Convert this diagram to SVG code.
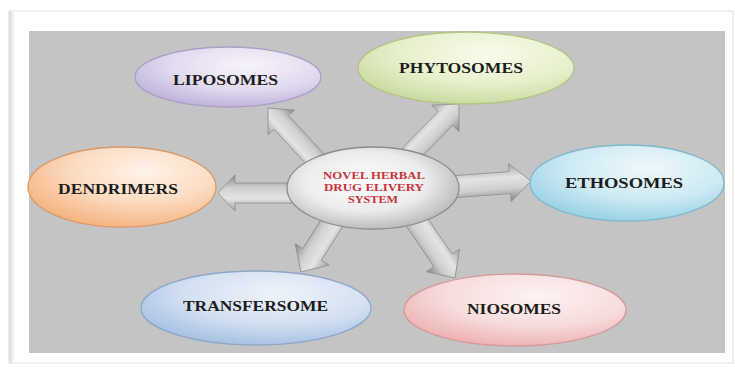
<svg xmlns="http://www.w3.org/2000/svg" width="735" height="367" viewBox="0 0 735 367">
  <defs>
    <style>
      .lbl { font-family: "Liberation Serif", "Times New Roman", serif; font-weight: bold; font-size: 14px; fill: #1c1c1c; }
      .ctr { font-family: "Liberation Serif", "Times New Roman", serif; font-weight: bold; font-size: 10.5px; fill: #c8323a; }
      .arrow { fill: url(#gArrow); stroke: #8e8e8e; stroke-width: 0.8; stroke-linejoin: miter; }
      .node { stroke-width: 1.3; }
    </style>
    <linearGradient id="gArrow" x1="0" y1="0" x2="0" y2="1">
      <stop offset="0" stop-color="#a2a2a2"/>
      <stop offset="0.35" stop-color="#e4e4e4"/>
      <stop offset="0.65" stop-color="#cfcfcf"/>
      <stop offset="1" stop-color="#858585"/>
    </linearGradient>
    <radialGradient id="gLipo" cx="0.6" cy="0.3" r="0.75">
      <stop offset="0" stop-color="#f7f4fb"/>
      <stop offset="0.55" stop-color="#e2daef"/>
      <stop offset="1" stop-color="#bcaed8"/>
    </radialGradient>
    <radialGradient id="gPhyto" cx="0.6" cy="0.3" r="0.75">
      <stop offset="0" stop-color="#f8fbec"/>
      <stop offset="0.55" stop-color="#e7f0cc"/>
      <stop offset="1" stop-color="#c6d99a"/>
    </radialGradient>
    <radialGradient id="gDend" cx="0.62" cy="0.3" r="0.75">
      <stop offset="0" stop-color="#fef3ea"/>
      <stop offset="0.5" stop-color="#fcdcc2"/>
      <stop offset="1" stop-color="#f4b17e"/>
    </radialGradient>
    <radialGradient id="gEtho" cx="0.6" cy="0.3" r="0.75">
      <stop offset="0" stop-color="#eef8fb"/>
      <stop offset="0.55" stop-color="#cdeaf3"/>
      <stop offset="1" stop-color="#93cfe3"/>
    </radialGradient>
    <radialGradient id="gTrans" cx="0.6" cy="0.3" r="0.75">
      <stop offset="0" stop-color="#eef3fa"/>
      <stop offset="0.55" stop-color="#d3e0f1"/>
      <stop offset="1" stop-color="#a2bde2"/>
    </radialGradient>
    <radialGradient id="gNio" cx="0.6" cy="0.3" r="0.75">
      <stop offset="0" stop-color="#fdf3f3"/>
      <stop offset="0.55" stop-color="#f7dcdc"/>
      <stop offset="1" stop-color="#ecaeae"/>
    </radialGradient>
    <radialGradient id="gCenter" cx="0.45" cy="0.42" r="0.72">
      <stop offset="0" stop-color="#ffffff"/>
      <stop offset="0.5" stop-color="#ececec"/>
      <stop offset="1" stop-color="#a0a0a0"/>
    </radialGradient>
    <linearGradient id="gShadowL" x1="0" y1="0" x2="1" y2="0">
      <stop offset="0" stop-color="#d8d8d8"/>
      <stop offset="1" stop-color="#ffffff"/>
    </linearGradient>
  </defs>

  <!-- page -->
  <rect x="0" y="0" width="735" height="367" fill="#ffffff"/>
  <rect x="9" y="11" width="724" height="352" fill="#ffffff" stroke="#e0e0e0" stroke-width="1"/>
  <rect x="9" y="11" width="6" height="352" fill="url(#gShadowL)"/>
  <rect x="29" y="31" width="696" height="322" fill="#c4c4c4"/>

  <!-- connectors -->
  <g id="connectors">
    <g transform="translate(318,162) rotate(-132.8)">
      <path class="arrow" d="M0,-10 L54,-10 L54,-18 L73.6,0 L54,18 L54,10 L0,10 Z"/>
    </g>
    <g transform="translate(410,155) rotate(-46.1)">
      <path class="arrow" d="M0,-10 L51,-10 L51,-19 L70.7,0 L51,19 L51,10 L0,10 Z"/>
    </g>
    <g transform="translate(300,193) rotate(180)">
      <path class="arrow" d="M0,-10 L65,-10 L65,-18 L82,0 L65,18 L65,10 L0,10 Z"/>
    </g>
    <g transform="translate(450,187) rotate(-4.2)">
      <path class="arrow" d="M0,-11 L60,-11 L60,-19 L81.2,0 L60,19 L60,11 L0,11 Z"/>
    </g>
    <g transform="translate(335,218) rotate(122.2)">
      <path class="arrow" d="M0,-11 L43,-11 L43,-20 L63.8,0 L43,20 L43,11 L0,11 Z"/>
    </g>
    <g transform="translate(412,215) rotate(55.7)">
      <path class="arrow" d="M0,-11 L55,-11 L55,-20 L76.3,0 L55,20 L55,11 L0,11 Z"/>
    </g>
  </g>

  <!-- nodes -->
  <g id="liposomes">
    <ellipse class="node" cx="228" cy="77" rx="93" ry="30" fill="url(#gLipo)" stroke="#aa9ec6"/>
    <text class="lbl" x="173" y="85" textLength="105" lengthAdjust="spacingAndGlyphs">LIPOSOMES</text>
  </g>
  <g id="phytosomes">
    <ellipse class="node" cx="466" cy="68" rx="108" ry="36" fill="url(#gPhyto)" stroke="#b3c486"/>
    <text class="lbl" x="399" y="73" textLength="124" lengthAdjust="spacingAndGlyphs">PHYTOSOMES</text>
  </g>
  <g id="dendrimers">
    <ellipse class="node" cx="122" cy="187" rx="94" ry="40" fill="url(#gDend)" stroke="#d99a68"/>
    <text class="lbl" x="58" y="194" textLength="120" lengthAdjust="spacingAndGlyphs">DENDRIMERS</text>
  </g>
  <g id="ethosomes">
    <ellipse class="node" cx="627" cy="183" rx="97" ry="38" fill="url(#gEtho)" stroke="#7fb9cc"/>
    <text class="lbl" x="565" y="188" textLength="118" lengthAdjust="spacingAndGlyphs">ETHOSOMES</text>
  </g>
  <g id="transfersome">
    <ellipse class="node" cx="256" cy="308" rx="115" ry="37" fill="url(#gTrans)" stroke="#8ea7c9"/>
    <text class="lbl" x="183" y="311" textLength="145" lengthAdjust="spacingAndGlyphs">TRANSFERSOME</text>
  </g>
  <g id="niosomes">
    <ellipse class="node" cx="515" cy="310" rx="111" ry="36" fill="url(#gNio)" stroke="#d49a9a"/>
    <text class="lbl" x="467" y="314" textLength="94" lengthAdjust="spacingAndGlyphs">NIOSOMES</text>
  </g>
  <g id="center">
    <ellipse class="node" cx="373" cy="188" rx="86" ry="41" fill="url(#gCenter)" stroke="#8c8c8c"/>
    <text class="ctr" x="323" y="179" textLength="102" lengthAdjust="spacingAndGlyphs">NOVEL HERBAL</text>
    <text class="ctr" x="324" y="191" textLength="100" lengthAdjust="spacingAndGlyphs">DRUG ELIVERY</text>
    <text class="ctr" x="348" y="203" textLength="50" lengthAdjust="spacingAndGlyphs">SYSTEM</text>
  </g>
</svg>
